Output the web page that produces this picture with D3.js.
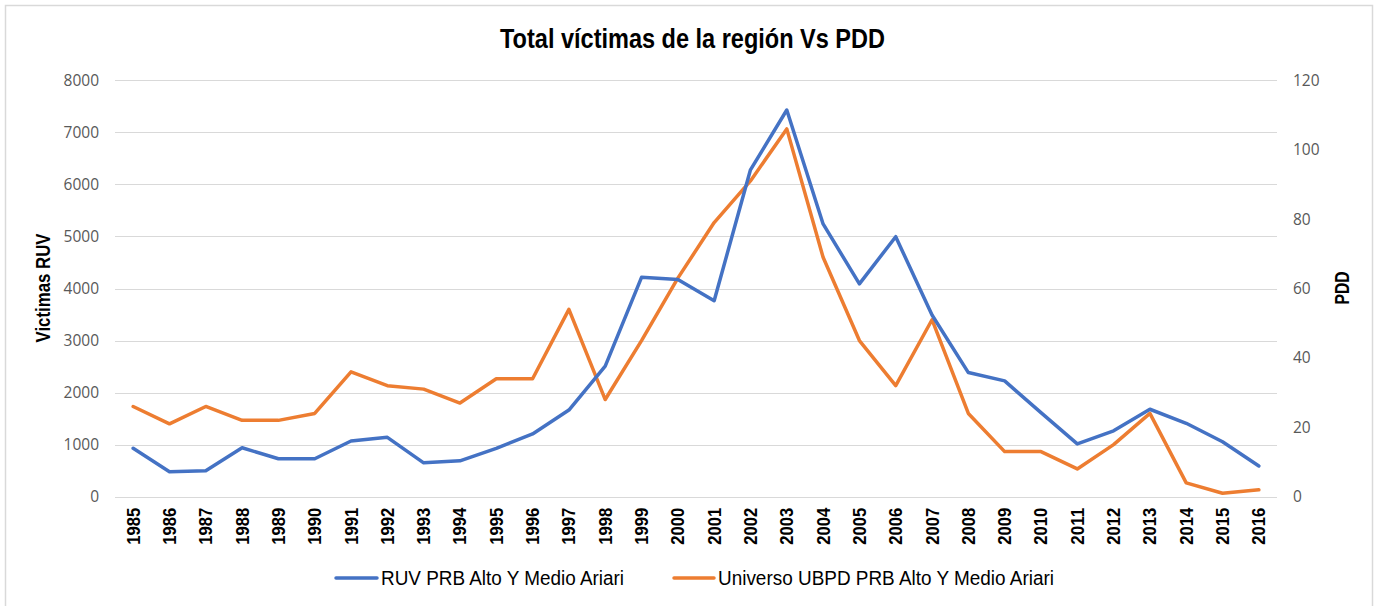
<!DOCTYPE html>
<html>
<head>
<meta charset="utf-8">
<script src="https://cdn.jsdelivr.net/npm/d3@7"></script>
<style>
  html, body { margin: 0; padding: 0; background: #fff; }
  svg { display: block; }
</style>
</head>
<body>
<svg id="chart" width="1383" height="606"></svg>
<script>
const years = ["1985","1986","1987","1988","1989","1990","1991","1992","1993","1994","1995","1996","1997","1998","1999","2000","2001","2002","2003","2004","2005","2006","2007","2008","2009","2010","2011","2012","2013","2014","2015","2016"];
const ruv = [930,480,500,940,730,730,1070,1140,650,690,930,1205,1665,2510,4215,4175,3765,6280,7430,5240,4090,4995,3490,2385,2225,1615,1015,1265,1680,1410,1055,590];
const ubpd = [26,21,26,22,22,24,36,32,31,27,34,34,54,28,45,63,79,91,106,69,45,32,51,24,13,13,8,15,24,4,1,2];
const leftTicks = [0,1000,2000,3000,4000,5000,6000,7000,8000];
const rightTicks = [0,20,40,60,80,100,120];
const seriesNames = ["RUV PRB Alto Y Medio Ariari", "Universo UBPD PRB Alto Y Medio Ariari"];
const colors = ["#4472C4", "#ED7D31"];

const svg = d3.select("#chart");
const M = { left: 115, right: 1277, top: 80.3, bottom: 496.7 };

// frame
svg.append("rect").attr("x", 5.5).attr("y", 5.5).attr("width", 1367).attr("height", 620)
  .attr("fill", "#fff").attr("stroke", "#D9D9D9").attr("stroke-width", 1.5);

const x = d3.scaleBand().domain(years).range([M.left, M.right]);
const yL = d3.scaleLinear().domain([0, 8000]).range([M.bottom, M.top]);
const yR = d3.scaleLinear().domain([0, 120]).range([M.bottom, M.top]);

// gridlines
svg.append("g").selectAll("line").data(leftTicks).join("line")
  .attr("x1", M.left).attr("x2", M.right)
  .attr("y1", d => Math.round(yL(d)) + 0.5).attr("y2", d => Math.round(yL(d)) + 0.5)
  .attr("stroke", "#D9D9D9").attr("stroke-width", 1);

// left axis labels
const gL = svg.append("g").attr("transform", "translate(99,0)")
  .call(d3.axisLeft(yL).tickValues(leftTicks).tickSize(0).tickPadding(0).tickFormat(d3.format("d")));
gL.select(".domain").remove();
gL.selectAll("text").attr("font-family", "'Open Sans', sans-serif").attr("font-size", "15.5px").attr("fill", "#595959");

// right axis labels
const gR = svg.append("g").attr("transform", "translate(1293,0)")
  .call(d3.axisRight(yR).tickValues(rightTicks).tickSize(0).tickPadding(0).tickFormat(d3.format("d")));
gR.select(".domain").remove();
gR.selectAll("text").attr("font-family", "'Open Sans', sans-serif").attr("font-size", "15.5px").attr("fill", "#595959");

// x axis labels
const gX = svg.append("g").attr("transform", `translate(0,${M.bottom})`)
  .call(d3.axisBottom(x).tickSize(0).tickPadding(0));
gX.select(".domain").remove();
gX.selectAll("text")
  .attr("font-family", "'Liberation Sans Narrow', 'Liberation Sans', Arial, sans-serif")
  .attr("font-weight", "bold").attr("font-size", "18px").attr("fill", "#000")
  .attr("text-anchor", "end")
  .attr("transform", "rotate(-90)")
  .attr("x", -11).attr("y", 0).attr("dy", "0.36em")
  .attr("textLength", 37).attr("lengthAdjust", "spacingAndGlyphs");

// lines
const lineL = d3.line().x((d, i) => x(years[i]) + x.bandwidth() / 2).y(d => yL(d));
const lineR = d3.line().x((d, i) => x(years[i]) + x.bandwidth() / 2).y(d => yR(d));
svg.append("path").datum(ubpd).attr("d", lineR).attr("fill", "none")
  .attr("stroke", colors[1]).attr("stroke-width", 3.5).attr("stroke-linejoin", "round").attr("stroke-linecap", "round");
svg.append("path").datum(ruv).attr("d", lineL).attr("fill", "none")
  .attr("stroke", colors[0]).attr("stroke-width", 3.5).attr("stroke-linejoin", "round").attr("stroke-linecap", "round");

// title
svg.append("text").attr("x", 500).attr("y", 48)
  .attr("font-family", "'Liberation Sans Narrow', 'Liberation Sans', Arial, sans-serif")
  .attr("font-weight", "bold").attr("font-size", "27px").attr("fill", "#000")
  .attr("textLength", 385).attr("lengthAdjust", "spacingAndGlyphs")
  .text("Total víctimas de la región Vs PDD");

// axis titles
svg.append("text").attr("transform", "translate(50,288) rotate(-90)")
  .attr("text-anchor", "middle")
  .attr("font-family", "'Liberation Sans Narrow', 'Liberation Sans', Arial, sans-serif")
  .attr("font-weight", "bold").attr("font-size", "21px").attr("fill", "#000")
  .attr("textLength", 109).attr("lengthAdjust", "spacingAndGlyphs")
  .text("Victimas RUV");
svg.append("text").attr("transform", "translate(1349,288) rotate(-90)")
  .attr("text-anchor", "middle")
  .attr("font-family", "'Liberation Sans Narrow', 'Liberation Sans', Arial, sans-serif")
  .attr("font-weight", "bold").attr("font-size", "21px").attr("fill", "#000")
  .attr("textLength", 33).attr("lengthAdjust", "spacingAndGlyphs")
  .text("PDD");

// legend
const legend = [
  { name: seriesNames[0], color: colors[0], x1: 336, x2: 377, tx: 381, tl: 243 },
  { name: seriesNames[1], color: colors[1], x1: 674, x2: 714, tx: 718, tl: 336 }
];
const lg = svg.append("g");
legend.forEach(l => {
  lg.append("line").attr("x1", l.x1).attr("x2", l.x2).attr("y1", 578).attr("y2", 578)
    .attr("stroke", l.color).attr("stroke-width", 3.5).attr("stroke-linecap", "round");
  lg.append("text").attr("x", l.tx).attr("y", 585)
    .attr("font-family", "'Liberation Sans Narrow', 'Liberation Sans', Arial, sans-serif")
    .attr("font-size", "20px").attr("fill", "#000")
    .attr("textLength", l.tl).attr("lengthAdjust", "spacingAndGlyphs")
    .text(l.name);
});
</script>
</body>
</html>
